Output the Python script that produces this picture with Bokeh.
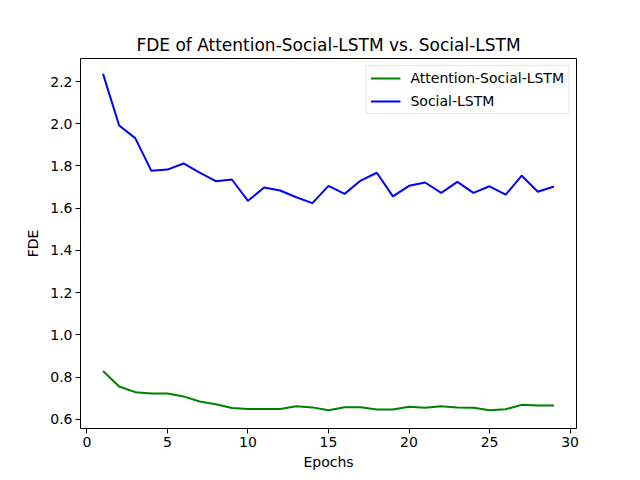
from bokeh.plotting import figure
from bokeh.models import FixedTicker, PrintfTickFormatter, Legend, LegendItem
from bokeh.embed import file_html
from bokeh.resources import INLINE

epochs = list(range(1, 30))
attention_social_lstm = [0.829, 0.756, 0.729, 0.723, 0.723, 0.709, 0.685, 0.672, 0.654, 0.649,
                         0.649, 0.649, 0.662, 0.657, 0.643, 0.658, 0.658, 0.647, 0.647, 0.660,
                         0.655, 0.662, 0.657, 0.655, 0.643, 0.648, 0.669, 0.666, 0.666]
social_lstm = [2.236, 1.992, 1.932, 1.777, 1.783, 1.812, 1.769, 1.728, 1.736, 1.635,
               1.698, 1.684, 1.652, 1.624, 1.706, 1.668, 1.731, 1.768, 1.656, 1.706,
               1.722, 1.673, 1.725, 1.673, 1.704, 1.664, 1.754, 1.678, 1.703]
x_ticks = [0, 5, 10, 15, 20, 25, 30]
y_ticks = [0.6, 0.8, 1.0, 1.2, 1.4, 1.6, 1.8, 2.0, 2.2]

FONT = "DejaVu Sans"

p = figure(width=632, height=472, output_backend="svg", toolbar_location=None,
           x_range=(-0.4, 30.4), y_range=(0.557, 2.309),
           title="FDE of Attention-Social-LSTM vs. Social-LSTM")
p.min_border_left = 80
p.min_border_right = 56
p.min_border_top = 58
p.min_border_bottom = 44

p.title.text_font = FONT
p.title.text_font_size = "17px"
p.title.text_font_style = "normal"
p.title.align = "center"
p.title.text_color = "black"
p.title.standoff = 8

p.xgrid.visible = False
p.ygrid.visible = False
p.outline_line_color = "black"
p.outline_line_width = 1
p.outline_line_alpha = 1.0

for ax in (p.xaxis[0], p.yaxis[0]):
    ax.major_tick_in = 0
    ax.major_tick_out = 5
    ax.minor_tick_in = 0
    ax.minor_tick_out = 0
    ax.axis_line_color = None
    ax.major_tick_line_color = "black"
    ax.major_label_text_font = FONT
    ax.major_label_text_font_size = "14px"
    ax.major_label_text_color = "black"
    ax.axis_label_text_font = FONT
    ax.axis_label_text_font_size = "14px"
    ax.axis_label_text_font_style = "normal"
    ax.axis_label_text_color = "black"

p.xaxis.ticker = FixedTicker(ticks=x_ticks)
p.yaxis.ticker = FixedTicker(ticks=y_ticks)
p.yaxis.formatter = PrintfTickFormatter(format="%.1f")
p.xaxis.axis_label = "Epochs"
p.yaxis.axis_label = "FDE"
p.xaxis.axis_label_standoff = 4
p.yaxis.axis_label_standoff = 6
p.xaxis.major_label_standoff = 3
p.yaxis.major_label_standoff = 3

r1 = p.line(epochs, attention_social_lstm, line_color="green", line_width=2)
r2 = p.line(epochs, social_lstm, line_color="blue", line_width=2)

legend = Legend(items=[LegendItem(label="Attention-Social-LSTM", renderers=[r1]),
                       LegendItem(label="Social-LSTM", renderers=[r2])],
                location="top_right")
legend.label_text_font = FONT
legend.label_text_font_size = "14px"
legend.label_text_color = "black"
legend.border_line_color = "#cccccc"
legend.border_line_width = 1
legend.background_fill_alpha = 0.8
legend.glyph_width = 30
legend.glyph_height = 14
legend.label_height = 14
legend.spacing = 7
legend.padding = 4
legend.margin = 7
legend.label_standoff = 10
p.add_layout(legend)

open("out.html", "w").write(file_html(p, INLINE))
